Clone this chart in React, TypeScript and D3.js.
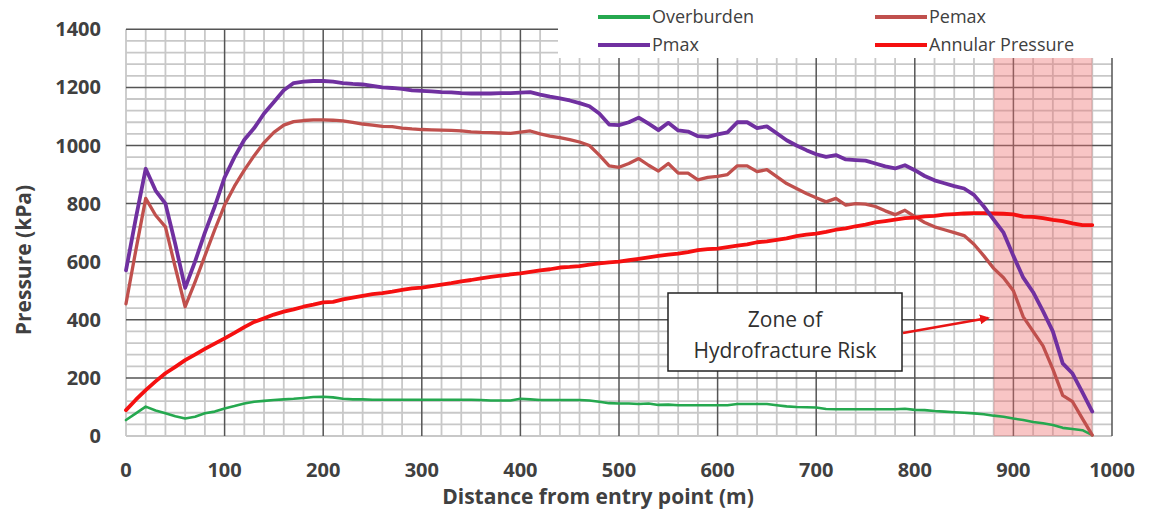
import React from "react";
import * as d3 from "d3";

// distance from entry point, every 10 m
const distance = d3.range(0, 990, 10);

const overburden = [
  55, 78, 101, 88, 78, 68, 60, 66, 78, 84, 95, 103, 112, 118, 121, 124, 126, 128, 131, 134,
  135, 133, 128, 126, 126, 125, 125, 125, 125, 125, 125, 125, 125, 125, 125, 125, 124, 122, 122, 122,
  128, 126, 124, 124, 124, 124, 124, 122, 118, 113, 112, 112, 110, 112, 107, 108, 106, 106, 106, 106,
  106, 106, 110, 110, 110, 110, 106, 102, 100, 99, 98, 93, 92, 92, 92, 92, 92, 92, 92, 94,
  90, 89, 86, 84, 82, 80, 78, 75, 70, 66, 60, 55, 48, 44, 38, 28, 24, 20, 3,
];

const pmax = [
  570, 750, 920, 845, 800, 660, 510, 600, 700, 790, 890, 960, 1020, 1060, 1110, 1150, 1190, 1215, 1220, 1222,
  1222, 1220, 1215, 1212, 1210, 1205, 1200, 1198, 1195, 1190, 1188, 1186, 1184, 1183, 1180, 1179, 1179, 1179, 1180, 1180,
  1182, 1184, 1175, 1168, 1162, 1155, 1146, 1135, 1110, 1072, 1070, 1080, 1096, 1075, 1053, 1078, 1052, 1048, 1032, 1030,
  1038, 1045, 1080, 1080, 1060, 1066, 1042, 1018, 1000, 984, 970, 961, 967, 952, 950, 948, 938, 928, 921, 932,
  915, 895, 880, 870, 860, 852, 830, 790, 745, 700, 620, 545, 495, 430, 360, 250, 215, 150, 84,
];

const pemax = [
  455, 640, 818, 760, 720, 580, 445, 530, 620, 710, 795, 860, 915, 965, 1010, 1045, 1070, 1082, 1086, 1088,
  1088, 1087, 1085, 1080, 1074, 1070, 1066, 1065, 1060, 1057, 1055, 1054, 1053, 1052, 1050, 1047, 1045, 1044, 1043, 1042,
  1046, 1050, 1040, 1032, 1027, 1020, 1012, 1000, 967, 930, 925, 938, 955, 932, 912, 938, 905, 905, 882, 890,
  894, 900, 930, 930, 910, 917, 893, 869, 852, 835, 820, 806, 818, 795, 800, 798, 790, 775, 762, 777,
  755, 735, 720, 710, 700, 690, 660, 620, 577, 545, 500, 410, 360, 310, 230, 140, 118, 60, 3,
];

const annular = [
  89, 125, 158, 188, 216, 238, 261, 280, 300, 318, 336, 355, 375, 393, 405, 418, 428, 436, 445, 452,
  460, 462, 470, 476, 482, 488, 492, 497, 503, 508, 511, 516, 521, 526, 532, 537, 543, 548, 552, 556,
  560, 565, 570, 574, 580, 582, 585, 590, 594, 598, 600, 605, 610, 615, 620, 624, 628, 633, 640, 643,
  645, 650, 655, 660, 667, 670, 675, 680, 688, 693, 697, 703, 710, 715, 722, 728, 735, 740, 745, 750,
  752, 756, 758, 762, 764, 766, 767, 767, 766, 765, 763, 755, 754, 750, 744, 740, 732, 726, 726,
];

const xTicks = [0, 100, 200, 300, 400, 500, 600, 700, 800, 900, 1000];
const yTicks = [0, 200, 400, 600, 800, 1000, 1200, 1400];
const riskZone = [880, 980];

const W = 1151;
const H = 510;
const FONT = "'Open Sans', 'DejaVu Sans', sans-serif";
const TXT = "#404040";

const x = d3.scaleLinear().domain([0, 1000]).range([126, 1112]);
const y = d3.scaleLinear().domain([0, 1400]).range([436, 29.3]);

const series = [
  { name: "Overburden", values: overburden, color: "#25a84f", width: 2.6 },
  { name: "Pemax", values: pemax, color: "#c0504d", width: 3.3 },
  { name: "Annular Pressure", values: annular, color: "#f51010", width: 3.8 },
  { name: "Pmax", values: pmax, color: "#7030a0", width: 3.8 },
];

const legendItems = [
  { name: "Overburden", color: "#25a84f", lx: 598, ly: 17 },
  { name: "Pmax", color: "#7030a0", lx: 598, ly: 45 },
  { name: "Pemax", color: "#c0504d", lx: 875, ly: 17 },
  { name: "Annular Pressure", color: "#f51010", lx: 875, ly: 45 },
];

export default function App() {
  const line = d3
    .line<number>()
    .x((_, i) => x(distance[i]))
    .y((d) => y(d));

  const minorX = d3.range(0, 1001, 20).filter((v) => v % 100 !== 0 || v === 0);
  const minorY = d3.range(0, 1401, 40).filter((v) => v % 200 !== 0 || v === 0);
  const majorX = xTicks.filter((v) => v !== 0);
  const majorY = yTicks.filter((v) => v !== 0);

  return (
    <svg width={W} height={H} style={{ position: "absolute", left: 0, top: 0, background: "#fff" }}>
      {/* grid */}
      <g>
        {minorX.map((v) => (
          <line key={"mx" + v} x1={x(v)} x2={x(v)} y1={y(0)} y2={y(1400)} stroke="#c8c8c8" strokeWidth={1.8} />
        ))}
        {minorY.map((v) => (
          <line key={"my" + v} x1={x(0)} x2={x(1000)} y1={y(v)} y2={y(v)} stroke="#c8c8c8" strokeWidth={1.8} />
        ))}
        {majorX.map((v) => (
          <line key={"Mx" + v} x1={x(v)} x2={x(v)} y1={y(0)} y2={y(1400)} stroke="#555" strokeWidth={1.5} />
        ))}
        {majorY.map((v) => (
          <line key={"My" + v} x1={x(0)} x2={x(1000)} y1={y(v)} y2={y(v)} stroke="#555" strokeWidth={1.5} />
        ))}
      </g>

      {/* zone of hydrofracture risk */}
      <rect
        x={x(riskZone[0])}
        y={y(1400)}
        width={x(riskZone[1]) - x(riskZone[0])}
        height={y(0) - y(1400)}
        fill="#ee6e6e"
        opacity={0.4}
      />

      {/* series */}
      {series.map((s) => (
        <path
          key={s.name}
          d={line(s.values) || ""}
          fill="none"
          stroke={s.color}
          strokeWidth={s.width}
          strokeLinejoin="round"
          strokeLinecap="round"
        />
      ))}

      {/* legend */}
      <rect x={558} y={0} width={W - 558} height={58} fill="#fff" />
      {legendItems.map((l) => (
        <g key={l.name}>
          <line x1={l.lx} x2={l.lx + 52} y1={l.ly} y2={l.ly} stroke={l.color} strokeWidth={3.8} />
          <text x={l.lx + 54} y={l.ly + 6} fontFamily={FONT} fontSize={18} fill={TXT}>
            {l.name}
          </text>
        </g>
      ))}

      {/* axes labels */}
      {yTicks.map((v) => (
        <text
          key={"yt" + v}
          x={101}
          y={y(v) + 7}
          textAnchor="end"
          fontFamily={FONT}
          fontWeight="bold"
          fontSize={20}
          fill={TXT}
        >
          {v}
        </text>
      ))}
      {xTicks.map((v) => (
        <text
          key={"xt" + v}
          x={x(v)}
          y={477}
          textAnchor="middle"
          fontFamily={FONT}
          fontWeight="bold"
          fontSize={20}
          fill={TXT}
        >
          {v}
        </text>
      ))}
      <text x={598} y={504} textAnchor="middle" fontFamily={FONT} fontWeight="bold" fontSize={21} fill={TXT}>
        Distance from entry point (m)
      </text>
      <text
        transform="translate(31,260) rotate(-90)"
        textAnchor="middle"
        fontFamily={FONT}
        fontWeight="bold"
        fontSize={21}
        fill={TXT}
      >
        Pressure (kPa)
      </text>

      {/* annotation */}
      <defs>
        <marker id="arrow" viewBox="0 0 10 10" refX="8" refY="5" markerWidth="4" markerHeight="4" orient="auto">
          <path d="M0,0 L10,5 L0,10 z" fill="#e81515" />
        </marker>
      </defs>
      <line x1={903} y1={333} x2={988} y2={318} stroke="#e81515" strokeWidth={2.5} markerEnd="url(#arrow)" />
      <rect x={668} y={293} width={234} height={78} fill="#fff" stroke="#222" strokeWidth={1.5} />
      <text x={785} y={327} textAnchor="middle" fontFamily={FONT} fontSize={21} fill="#303030">
        Zone of
      </text>
      <text x={785} y={358} textAnchor="middle" fontFamily={FONT} fontSize={21} fill="#303030">
        Hydrofracture Risk
      </text>
    </svg>
  );
}
